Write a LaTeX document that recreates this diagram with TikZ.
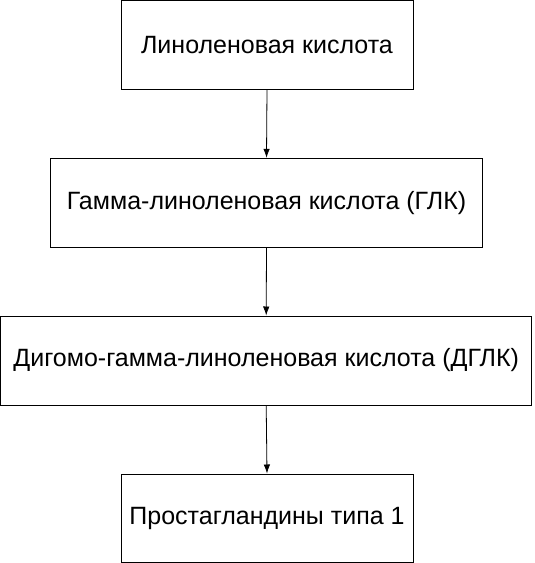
\documentclass[tikz,border=0pt]{standalone}
\usepackage{fontspec}
\setmainfont{Liberation Sans}
\usetikzlibrary{arrows.meta}
\begin{document}
\begin{tikzpicture}[x=1pt,y=1pt,
  box/.style={draw, line width=1pt, inner sep=0pt, minimum height=89pt, font=\fontsize{25}{29}\selectfont},
  arr/.style={line width=0.8pt, -{Latex[length=9pt,width=6.5pt]}}]
\useasboundingbox (0,0) rectangle (535,-563);
\node[box, minimum width=292pt] (a) at (267,-45) {Линоленовая кислота};
\node[box, minimum width=432pt] (b) at (266.5,-202.8) {Гамма-линоленовая кислота (ГЛК)};
\node[box, minimum width=531pt] (c) at (266.2,-360.5) {Дигомо-гамма-линоленовая кислота (ДГЛК)};
\node[box, minimum width=292pt, minimum height=88pt] (d) at (267,-518) {Простагландины типа 1};
\draw[arr] (a.south) -- (b.north);
\draw[arr] (b.south) -- (c.north);
\draw[arr] (c.south) -- (d.north);
\end{tikzpicture}
\end{document}
